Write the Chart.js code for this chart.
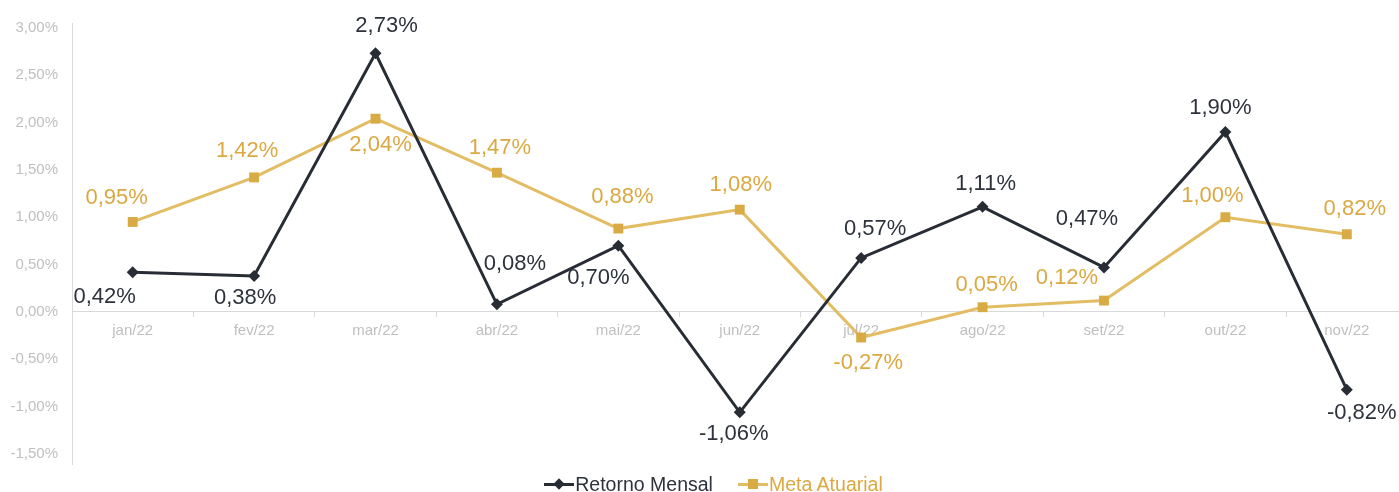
<!DOCTYPE html>
<html>
<head>
<meta charset="utf-8">
<script src="https://cdn.jsdelivr.net/npm/chart.js@4.4.0/dist/chart.umd.min.js"></script>
<style>
    body { margin: 0; background: #fff; }
    #wrap { position: relative; width: 1399px; height: 492px; }
    #legend {
        position: absolute; left: 28px; right: 0; top: 473px;
        display: flex; justify-content: center;
        font-family: 'Liberation Sans', Arial, sans-serif; font-size: 19.5px; line-height: 22px;
    }
    .item { display: flex; align-items: center; }
    .item + .item { margin-left: 25px; }
    .mk { position: relative; width: 30px; height: 3px; margin-right: 1px; }
    .mk::after { content: ''; position: absolute; left: 50%; top: 50%; }
    .mk.dia { background: #282d35; }
    .mk.dia::after { width: 8px; height: 8px; background: #282d35; transform: translate(-50%, -50%) rotate(45deg); }
    .mk.sq { background: #e2bd64; }
    .mk.sq::after { width: 10px; height: 10px; background: #d9ab44; transform: translate(-50%, -50%); }
</style>
</head>
<body>
<div id="wrap">
    <canvas id="chart" width="1399" height="492"></canvas>
    <div id="legend">
        <div class="item"><span class="mk dia"></span><span style="color:#2d323b">Retorno Mensal</span></div>
        <div class="item"><span class="mk sq"></span><span style="color:#dba842">Meta Atuarial</span></div>
    </div>
</div>
<script>
// Chart data
const months = ['jan/22', 'fev/22', 'mar/22', 'abr/22', 'mai/22', 'jun/22', 'jul/22', 'ago/22', 'set/22', 'out/22', 'nov/22'];
const retornoMensal = [0.42, 0.38, 2.73, 0.08, 0.70, -1.06, 0.57, 1.11, 0.47, 1.90, -0.82];
const metaAtuarial = [0.95, 1.42, 2.04, 1.47, 0.88, 1.08, -0.27, 0.05, 0.12, 1.00, 0.82];
const yTicks = [-1.5, -1.0, -0.5, 0, 0.5, 1.0, 1.5, 2.0, 2.5, 3.0];

const DARK = '#282d35';
const GOLD_LINE = '#e2bd64';
const GOLD_MARK = '#d9ab44';
const GOLD_TEXT = '#dba842';
const AXIS = '#d9d9d9';
const TICK_TEXT = '#bfbfbf';
const FONT = "'Liberation Sans', Arial, sans-serif";

function pct(v) {
    return v.toFixed(2).replace('.', ',') + '%';
}

// label offsets from each point, [dx, dy]
const labelOffsets = [
    [[-28, 25], [-9, 22], [11, -27], [18, -40], [-20, 32], [-6, 22], [14, -29], [3, -23], [-17, -48], [-5, -24], [15, 23]],
    [[-16, -24], [-7, -26], [5, 26], [3, -25], [4, -32], [1, -25], [7, 25], [4, -22], [-37, -23], [-13, -21], [8, -25]]
];
const labelColors = ['#2d323b', GOLD_TEXT];

const pointLabels = {
    id: 'pointLabels',
    afterDatasetsDraw(chart) {
        const ctx = chart.ctx;
        ctx.save();
        ctx.font = '22px ' + FONT;
        ctx.textAlign = 'center';
        ctx.textBaseline = 'middle';
        chart.data.datasets.forEach((ds, di) => {
            const meta = chart.getDatasetMeta(di);
            ctx.fillStyle = labelColors[di];
            meta.data.forEach((pt, i) => {
                const off = labelOffsets[di][i];
                ctx.fillText(pct(ds.data[i].y), pt.x + off[0], pt.y + off[1]);
            });
        });
        ctx.restore();
    }
};

const toXY = arr => arr.map((v, i) => ({ x: i, y: v }));

new Chart(document.getElementById('chart'), {
    type: 'line',
    data: {
        datasets: [
            {
                label: 'Retorno Mensal',
                data: toXY(retornoMensal),
                borderColor: DARK,
                backgroundColor: DARK,
                borderWidth: 3,
                pointStyle: 'rectRot',
                pointRadius: 6,
                pointBorderWidth: 0,
                tension: 0
            },
            {
                label: 'Meta Atuarial',
                data: toXY(metaAtuarial),
                borderColor: GOLD_LINE,
                backgroundColor: GOLD_MARK,
                borderWidth: 3,
                pointStyle: 'rect',
                pointRadius: 7,
                pointBorderWidth: 0,
                tension: 0
            }
        ]
    },
    options: {
        responsive: false,
        animation: false,
        layout: { autoPadding: false, padding: { left: 0, top: 22, bottom: 28, right: 0 } },
        plugins: {
            legend: { display: false },
            tooltip: { enabled: false }
        },
        scales: {
            x: {
                type: 'linear',
                position: { y: 0 },
                min: -0.5,
                max: 10.43,
                afterBuildTicks(scale) {
                    const t = [];
                    for (let v = -0.5; v <= scale.max; v += 0.5) t.push({ value: v });
                    scale.ticks = t;
                },
                afterFit(scale) {
                    scale.paddingLeft = 0;
                    scale.paddingRight = 0;
                },
                grid: {
                    drawOnChartArea: false,
                    drawTicks: true,
                    tickLength: 5,
                    color: c => (c.tick && Number.isInteger(c.tick.value)) ? 'rgba(0,0,0,0)' : AXIS
                },
                border: { display: true, color: AXIS, width: 1 },
                ticks: {
                    autoSkip: false,
                    maxRotation: 0,
                    padding: 5,
                    color: TICK_TEXT,
                    font: { family: FONT, size: 15 },
                    callback: v => Number.isInteger(v) ? months[v] : ''
                }
            },
            y: {
                min: -1.605,
                max: 3.05,
                afterBuildTicks(scale) {
                    scale.ticks = yTicks.map(v => ({ value: v }));
                },
                afterFit(scale) { scale.width = 72; },
                grid: { display: false, drawTicks: false },
                border: { display: true, color: AXIS, width: 1 },
                ticks: {
                    padding: 14,
                    color: TICK_TEXT,
                    font: { family: FONT, size: 15 },
                    callback: v => pct(v)
                }
            }
        }
    },
    plugins: [pointLabels]
});
</script>
</body>
</html>
